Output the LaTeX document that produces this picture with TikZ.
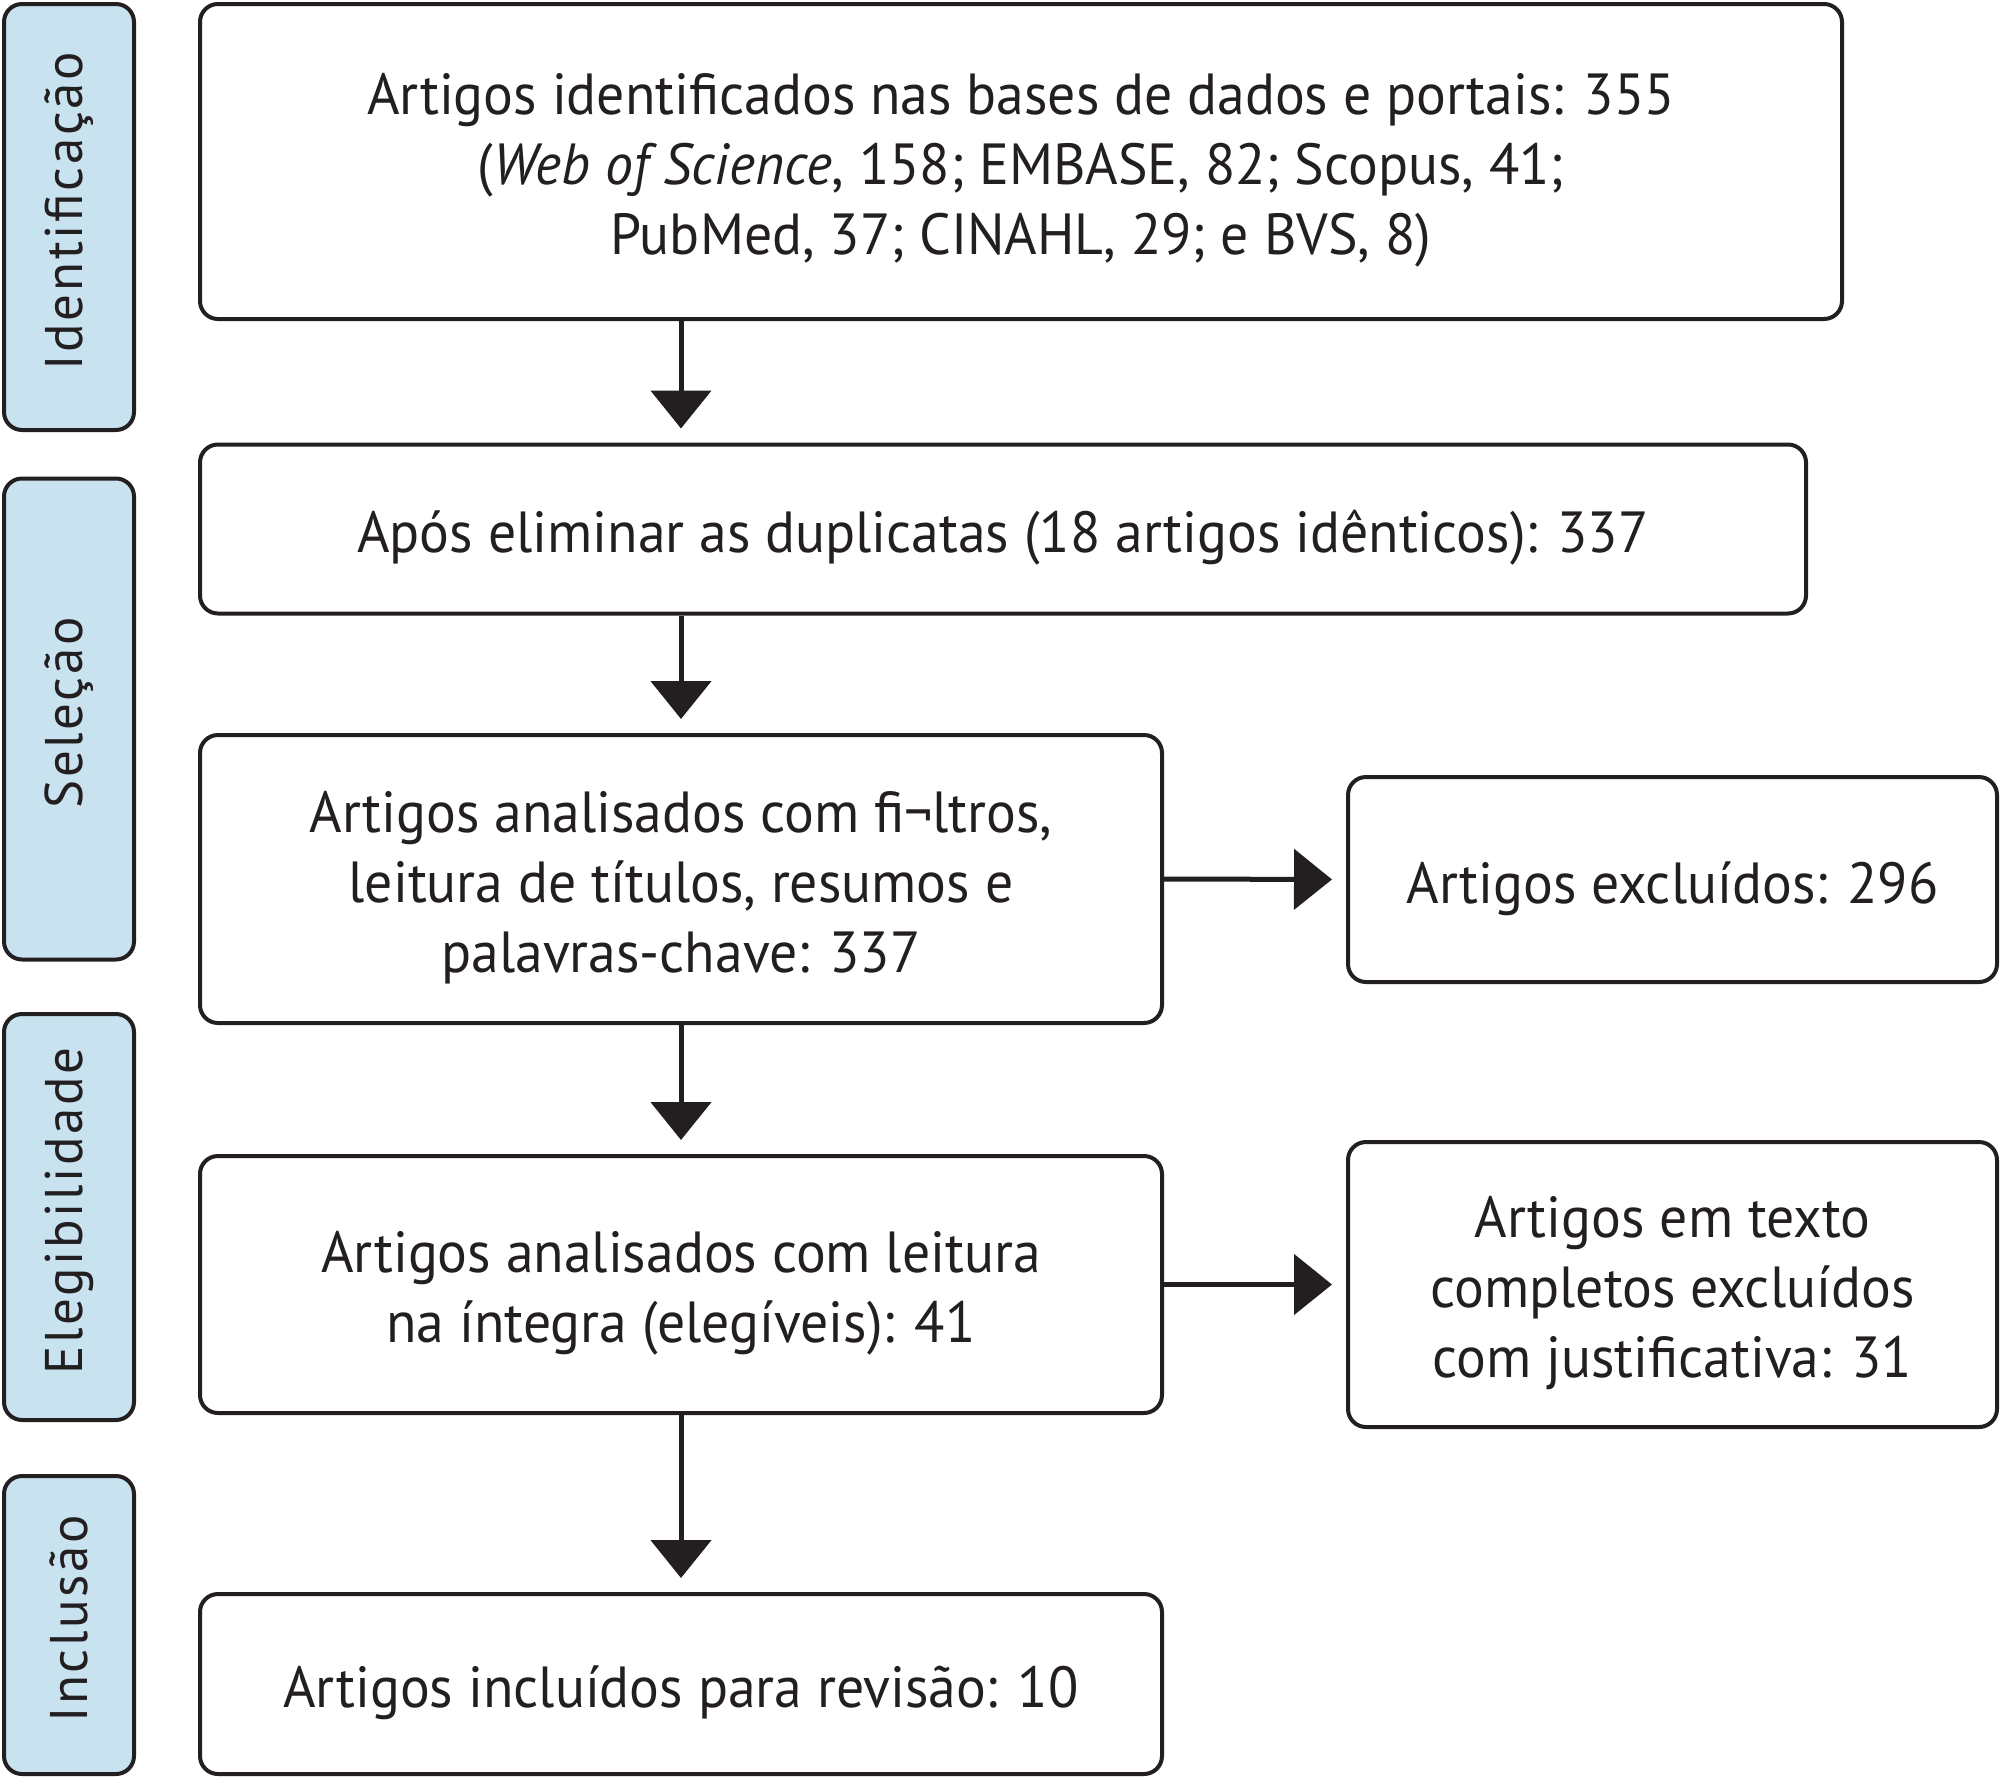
\documentclass[tikz,border=0pt]{standalone}
\usepackage{fontspec}
\setmainfont{PT Sans}[FakeStretch=0.96]
\newfontfamily\sidefont[LetterSpace=5]{PT Sans}
\usetikzlibrary{arrows.meta}
\definecolor{ink}{HTML}{231F20}
\definecolor{sidefill}{HTML}{C8E2F0}
\tikzset{
  box/.style={draw=ink, line width=4pt, rounded corners=18pt, fill=white, inner sep=0pt},
  boxtext/.style={align=center, text=ink, inner sep=0pt, yshift=-9pt,
    font=\fontsize{58}{70}\selectfont},
  sidebox/.style={draw=ink, line width=4pt, rounded corners=18pt, fill=sidefill, inner sep=0pt,
    minimum width=130pt, text=ink},
  sidetext/.style={rotate=90, text=ink, xshift=6pt, font=\sidefont\fontsize{53}{60}\selectfont},
  arr/.style={draw=ink, line width=5pt, -{Triangle[width=60pt,length=38pt]}, shorten >=14pt}
}
\begin{document}
\begin{tikzpicture}[x=1pt,y=-1pt]
\useasboundingbox (0,0) rectangle (2000,1778);
% side labels
\node[sidebox, minimum height=426pt] (s1) at (69,217) {};
\node[sidetext] (t1) at (s1.center) {Identificação};
\node[sidebox, minimum height=481pt] (s2) at (69,719) {};
\node[sidetext] (t2) at (s2.center) {Seleção};
\node[sidebox, minimum height=406pt] (s3) at (69,1217) {};
\node[sidetext] (t3) at (s3.center) {Elegibilidade};
\node[sidebox, minimum height=298pt] (s4) at (69,1625) {};
\node[sidetext] (t4) at (s4.center) {Inclusão};
% main boxes
\node[box, minimum width=1642pt, minimum height=315pt] (b1) at (1021,161.5) {};
\node[boxtext] (l1) at (b1.center)
  {Artigos identificados nas bases de dados e portais: 355\\(\textit{Web of Science}, 158; EMBASE, 82; Scopus, 41;\\PubMed, 37; CINAHL, 29; e BVS, 8)};
\node[box, minimum width=1606pt, minimum height=169pt] (b2) at (1003,529) {};
\node[boxtext] (l2) at (b2.center)
  {Após eliminar as duplicatas (18 artigos idênticos): 337};
\node[box, minimum width=962pt, minimum height=288pt] (b3) at (681,879) {};
\node[boxtext] (l3) at (b3.center)
  {Artigos analisados com fi¬ltros,\\leitura de títulos, resumos e\\palavras-chave: 337};
\node[box, minimum width=649pt, minimum height=205pt] (r1) at (1672.5,879.5) {};
\node[boxtext] (lr1) at (r1.center)
  {Artigos excluídos: 296};
\node[box, minimum width=962pt, minimum height=257pt] (b4) at (681,1284.5) {};
\node[boxtext] (l4) at (b4.center)
  {Artigos analisados com leitura\\na íntegra (elegíveis): 41};
\node[box, minimum width=649pt, minimum height=285pt] (r2) at (1672.5,1284.5) {};
\node[boxtext] (lr2) at (r2.center)
  {Artigos em texto\\completos excluídos\\com justificativa: 31};
\node[box, minimum width=962pt, minimum height=180pt] (b5) at (681,1684) {};
\node[boxtext] (l5) at (b5.center)
  {Artigos incluídos para revisão: 10};
% connectors
\draw[arr] (b1.south -| b3.center) -- (b2.north -| b3.center);
\draw[arr] (b2.south -| b3.center) -- (b3.north);
\draw[arr] (b3.south) -- (b4.north);
\draw[arr] (b4.south) -- (b5.north);
\draw[arr] (b3.east) -- (r1.west);
\draw[arr] (b4.east) -- (r2.west);
\end{tikzpicture}
\end{document}
